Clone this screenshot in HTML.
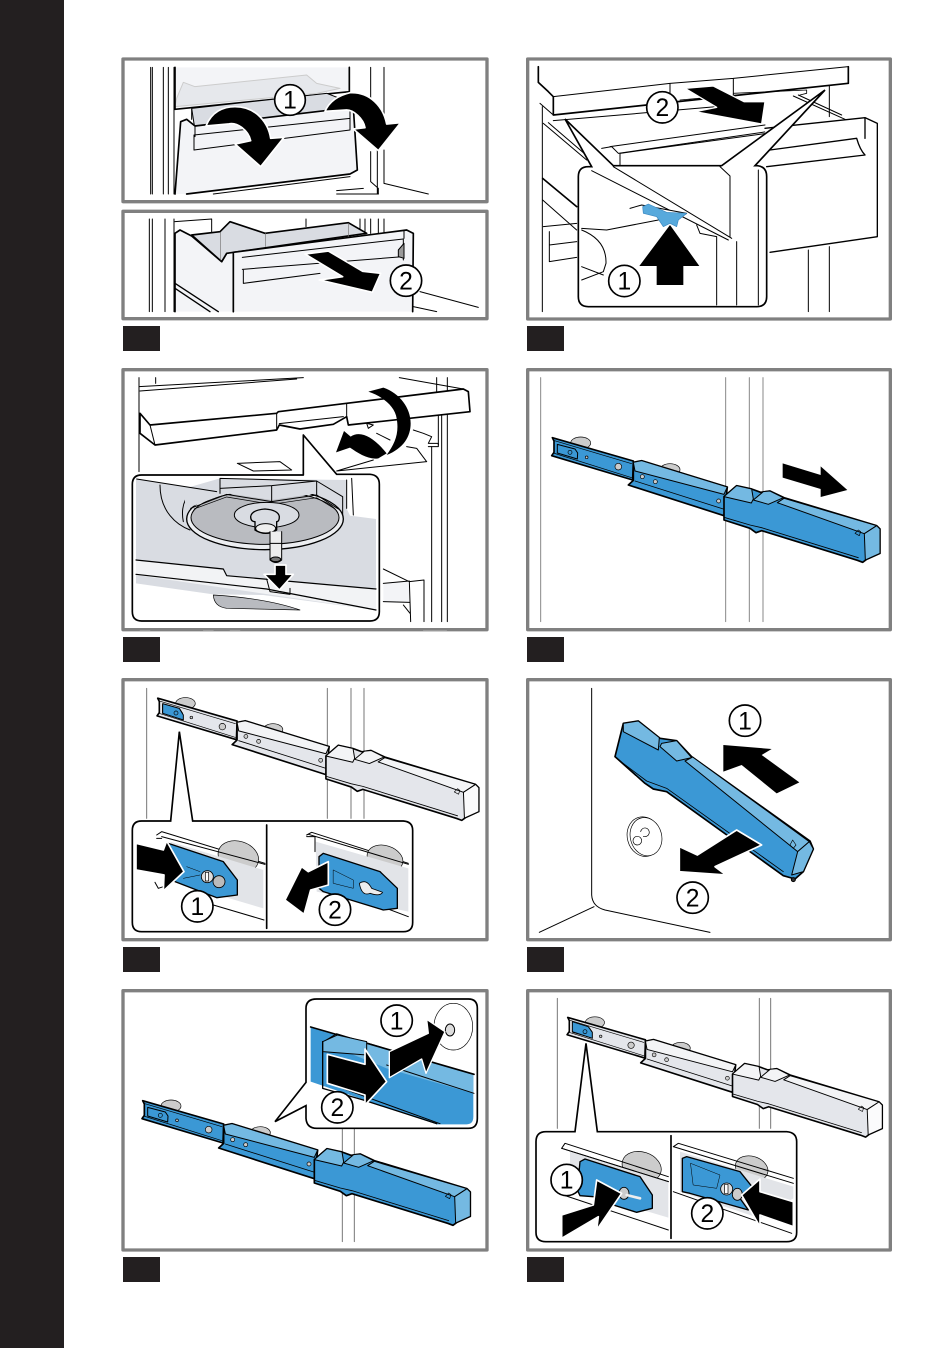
<!DOCTYPE html>
<html><head><meta charset="utf-8"><style>
html,body{margin:0;padding:0;background:#fff}
svg{display:block}
.f{fill:none;stroke:#808080;stroke-width:10}
.t{fill:#231f20}
g.p{fill:none;stroke:#000;stroke-width:3;stroke-linejoin:round;stroke-linecap:round}
.n text{font:74px "Liberation Sans",sans-serif;fill:#000;stroke:none;text-anchor:middle;transform:translateY(4px)}
.n circle{fill:#fff;stroke:#000;stroke-width:5}
.k{fill:#000;stroke:#fff;stroke-width:5}
.m{fill:var(--a);stroke:#000;stroke-width:5}
.l{fill:var(--b);stroke:#000;stroke-width:3}
.e{fill:var(--c);stroke:#000;stroke-width:3}
.h{fill:#ccc;stroke:#000;stroke-width:2}
.blue{--a:#3b98d5;--b:#74b9e2;--c:#74b9e2}
.grey{--a:#e4e6eb;--b:#f3f4f6;--c:#fbfbfc}
.d1{fill:#f3f4f7}.d2{fill:#d9dce2}.d3{fill:#b9bbc0}
</style></head><body>
<svg width="950" height="1348" viewBox="0 0 950 1348" xmlns="http://www.w3.org/2000/svg">
<defs>
<g id="rail">
<ellipse class="h" cx="182" cy="234" rx="30" ry="18"/>
<ellipse class="h" cx="450" cy="314" rx="30" ry="18"/>
<path class="m" d="M97,218L340,288L338,345L95,272L102,262L102,228Z"/>
<path d="M100,226L335,296M100,264L335,338" stroke="#000" stroke-width="2" fill="none"/>
<path d="M112,238L165,252L173,264L172,282L112,264Z" fill="#3b98d5" stroke="#000" stroke-width="3"/>
<circle cx="150" cy="262" r="6" fill="#3b98d5" stroke="#000" stroke-width="2"/>
<circle class="h" cx="200" cy="277" r="4"/>
<circle class="h" cx="295" cy="305" r="10"/>
<path class="m" d="M340,292L365,287L622,366L612,452L325,360L340,346Z"/>
<path class="l" d="M340,292L365,287L622,366L612,388L345,318Z"/>
<path d="M345,348L610,432" stroke="#000" stroke-width="2.5" fill="none"/>
<circle class="h" cx="367" cy="335" r="6"/><circle class="h" cx="406" cy="350" r="6"/><circle class="h" cx="596" cy="408" r="6"/>
<path class="m" d="M612,395L650,362L695,372L722,382L750,378L792,398L1070,482L1080,492L1080,565L1040,583L1028,592L1012,586L725,497L708,503L690,490L612,465Z"/>
<path class="l" d="M612,395L650,362L695,372L700,402L694,414Z"/>
<path class="l" d="M700,405L730,380L750,378L790,398L745,418Z"/>
<path class="l" d="M772,413L792,400L1070,482L1033,506Z"/>
<path class="e" d="M1033,506L1070,482L1080,492L1080,565L1036,585Z"/>
<path d="M612,457L690,480L725,488L1015,578" stroke="#000" stroke-width="2.5" fill="none"/>
<path d="M1005,505L1015,495L1022,500L1018,512Z" fill="none" stroke="#000" stroke-width="2"/>
</g>
</defs>
<rect x="0" y="0" width="950" height="1348" fill="#fff"/>
<rect x="0" y="0" width="64" height="1348" fill="#231f20"/>

<!-- Panel 1 -->
<g class="p" transform="translate(120,50) scale(.33333)">
<rect class="f" x="9" y="27" width="1092" height="428"/>
<path d="M92,52V432M97,52V432M130,52V432M145,52V432M162,52V432M752,52V200M772,300V432M792,52V200M792,300V400L925,432M752,305V395L775,415V432" stroke-width="3"/>
<path class="d1" stroke="none" d="M165,52H688L688,125L165,175Z"/>
<path fill="#e6e8ec" stroke="#ccc" d="M170,145L190,97L225,110L560,75L590,100L660,115L590,130L165,170Z"/>
<path d="M165,52V178L688,125V52" stroke-width="5"/>
<path class="d2" stroke="#000" d="M215,175L620,130L710,165L690,195L225,240Z"/>
<path class="d1" stroke="none" d="M165,432L182,215L200,208L225,228L700,172L712,360L690,372L200,432Z"/>
<path stroke-width="5" d="M165,432L182,215L200,208L225,228L700,172L712,360L690,372L200,432"/>
<path d="M222,255L690,205M222,300V255M222,300L690,240M225,228V260M215,178V208M690,172L690,240"/>
<path class="k" d="M258,228C275,185 310,170 345,170C410,170 445,220 452,265L492,262L422,350L345,282L392,272C385,240 350,215 325,222Z"/>
<path class="k" d="M615,184C630,150 660,135 690,128C750,125 790,170 800,222L842,218L775,302L700,237L735,233C730,205 700,180 680,180Z"/>
<path d="M280,432L690,380M650,422L730,415M650,432H775" stroke-width="3"/>
<g class="n"><circle cx="510" cy="150" r="46"/><text x="510" y="172">1</text></g>
</g>

<!-- Panel 1b -->
<g class="p" transform="translate(120,50) scale(.33333)">
<rect class="f" x="9" y="484" width="1092" height="322"/>
<path d="M88,507V785M97,507V785M135,507V785M162,507V785M720,507V550M735,507V550M752,507V550M775,507V550M792,507V550M558,507V530M165,515L275,507M275,507V545"/>
<path class="d1" stroke="none" d="M165,785V550L180,540L215,558L305,635L320,610L340,605V785Z"/>
<path stroke-width="5" d="M165,785V550L180,540L215,558L305,635L320,610L340,605V785"/>
<path class="d2" stroke="#000" stroke-width="5" d="M215,555L300,545L330,515L435,550L685,518L740,550L320,610L305,635Z"/>
<path d="M302,547V630M437,550V590M685,520V560" stroke-width="2" stroke="#777"/>
<path d="M165,700L295,785M165,715L270,785" stroke-width="4"/>
<path class="d1" stroke="none" d="M340,607L860,540L880,550L878,785H340Z"/>
<path stroke-width="5" d="M340,785V607L860,540L880,550L878,785"/>
<path d="M367,622L850,567M367,658L850,620M370,658V700L600,670M850,567V630M852,540V565"/>
<path d="M835,600L852,580V625L835,620Z" fill="#999"/>
<path d="M900,725L1075,772M880,770L950,785"/>
<path class="k" d="M555,612L625,603L728,664L782,670L757,727L598,690L668,680Z"/>
<g class="n"><circle cx="858" cy="692" r="47"/><text x="858" y="714">2</text></g>
</g>
<rect class="t" x="123" y="326" width="37" height="25"/>

<!-- Panel 2 -->
<g class="p" transform="translate(520,50) scale(.33333)">
<rect class="f" x="23" y="27" width="1088" height="780"/>
<path d="M67,170V785M865,600V785M928,590V785M928,105V200"/>
<path d="M100,212L590,170M70,220L200,330M85,218L210,325M300,310L740,250M820,138L975,208M835,135L965,195" />
<path fill="#fff" stroke="#000" stroke-width="5" d="M55,50V97L85,125L100,140V195L985,100V50"/>
<path d="M100,140L450,100M450,100V140M450,100L640,85V135M640,85L985,50M60,160L100,195" stroke-width="3"/>
<path d="M480,150L590,140M640,130L860,120V130L840,135" stroke-width="2.5"/>
<path d="M245,295L275,290L295,310L740,245M270,290L735,225" stroke-width="3"/>
<path d="M300,312V345"/>
<path fill="#fff" stroke="#000" stroke-width="4" d="M735,235L1035,203L1072,220V560L750,607"/>
<path stroke-width="4" d="M750,300L1010,265Q1020,300 1035,315L740,350M1035,205V265"/>
<path d="M68,385L170,470" stroke-width="5"/>
<path d="M68,450L170,540M70,530L170,520M88,545V635L170,622M88,585L170,575"/>
<path fill="#fff" stroke="#000" stroke-width="5" stroke-linejoin="miter" d="M205,350H215L135,207L280,347H605L915,120L705,347H712Q740,350 740,380V740Q740,770 710,770H205Q175,770 175,740V380Q175,350 205,350Z"/>
<path d="M215,362L625,570M280,350L635,565M600,350L630,378V560M590,560V765M650,575V765M715,360V765M185,535L260,540L415,510M185,540Q260,570 258,640L250,665L185,690M185,650L250,675M530,525L540,550L590,560"/>
<path fill="#fff" d="M330,475L365,465L500,490L470,510"/>
<path fill="#57a9dc" stroke="#3b88c0" stroke-width="2" d="M368,470L385,462L440,487L500,490L475,510L470,530L450,520L430,530L410,500L370,490Z"/>
<path class="k" style="stroke:none" d="M450,525L538,648H490V705H410V648H358Z"/>
<g class="n"><circle cx="313" cy="693" r="47"/><text x="313" y="715">1</text></g>
<path class="k" style="stroke-width:4" d="M495,115L580,108L672,155L735,155L725,222L525,185L590,172Z"/>
<g class="n"><circle cx="427" cy="172" r="47"/><text x="427" y="194">2</text></g>
</g>
<rect class="t" x="527" y="326" width="37" height="25"/>

<!-- Panel 3 -->
<g class="p" transform="translate(120,365) scale(.33333)">
<rect class="f" x="9" y="14" width="1092" height="780"/>
<path d="M57,38V320M107,38V55M950,38V80M982,38V770M935,245V770M965,150V770M955,150V240"/>
<path d="M57,65L550,38M60,78L530,42M838,38L1030,72"/>
<path fill="#fff" stroke-width="5" d="M60,145L90,180L470,145L475,140L680,115L1030,72L1045,80L1050,140L685,180L680,155L640,178L540,192L478,180L470,195L105,240L60,205Z"/>
<path d="M90,180L105,240M470,145V195M680,115V155M478,176L670,155"/>
<path d="M740,175L760,180L745,190ZM770,205L810,225M880,195L910,205L935,215L925,235H955V245H925M860,245L890,250L920,290L650,318L760,285"/>
<path d="M352,295L480,290L515,315L400,318Z" stroke-width="3"/>
<path class="k" style="stroke:none" d="M745,80L790,68C840,85 872,130 872,175C872,215 850,250 800,270C825,235 838,205 830,160C825,125 790,95 745,80Z"/>
<path class="k" style="stroke:none" d="M648,262L672,198L692,215C720,195 760,215 800,265L775,280C745,285 715,265 690,248Z"/>
<path fill="#fff" stroke="none" d="M65,330H550V210L650,328H750Q778,330 778,358V740Q778,768 750,768H65Q37,768 37,740V358Q37,330 65,330Z"/>
<path class="d2" stroke="none" d="M48,342L290,380L300,340L590,348L670,410L690,452L768,462V735L430,690L280,688L48,655Z"/>
<path d="M120,360C120,440 170,480 210,495M190,470C180,420 200,380 240,365" stroke-width="3"/>
<ellipse cx="435" cy="462" rx="235" ry="92" fill="#eceef1" stroke="#000" stroke-width="4"/>
<ellipse cx="435" cy="458" rx="222" ry="80" class="d3" stroke="#000" stroke-width="3"/>
<path class="d2" stroke="none" d="M195,432L320,385L455,405L590,385L680,432L680,345L300,340L195,370Z"/>
<path d="M212,430L320,388L455,410L590,390L655,432" stroke-width="3"/>
<path d="M222,432L320,396L455,418L590,398L645,432" stroke-width="2"/>
<path d="M300,340V385M455,362V408M590,348V390M300,340L590,348L668,395V450M50,342L290,380M695,340L700,450M680,345V430M300,370L455,362L590,348" stroke-width="3"/>
<ellipse cx="440" cy="450" rx="97" ry="38" fill="#d9dce2" stroke="#000" stroke-width="3"/>
<path d="M392,455Q395,435 435,432Q475,435 478,455Q478,470 470,470V495Q437,515 405,495V470Q392,470 392,455Z" fill="#d9dce2" stroke="#000" stroke-width="4"/>
<ellipse cx="437" cy="490" rx="30" ry="14" fill="#eee" stroke="#000" stroke-width="3"/>
<path d="M450,500V535H485V500M450,535V585Q468,600 485,585V535" fill="#eee" stroke="#000" stroke-width="3"/>
<ellipse cx="467" cy="583" rx="15" ry="7" fill="#777"/>
<path fill="#f2f3f5" stroke="none" d="M48,585L310,615L320,632L768,670V735L48,630Z"/>
<path d="M48,585L310,612L320,632L768,672M48,628L440,672L768,735" stroke-width="3.5"/>
<path d="M440,642L450,680L510,688V670" />
<path d="M280,690Q282,725 320,730L540,735Q440,700 280,690Z" fill="#b9bbc0" stroke="#000" stroke-width="2"/>
<path class="k" d="M465,600H498V628H520L478,675L432,628H465Z"/>
<path fill="none" stroke="#000" stroke-width="5" d="M65,330H550V210L650,328H750Q778,330 778,358V740Q778,768 750,768H65Q37,768 37,740V358Q37,330 65,330Z"/>
<path class="d1" stroke="none" d="M790,655L868,648V710H790Z"/>
<path stroke-width="3" d="M790,612L868,650L912,645V770M790,655L868,648L872,770M790,710L870,712M850,720L870,745"/>
<path d="M60,797H90M250,797H280M330,797H360M910,797H980" stroke-width="2" stroke="#aaa"/>
</g>
<rect class="t" x="123" y="637" width="37" height="25"/>

<!-- Panel 4 -->
<g class="p blue" transform="translate(520,365) scale(.33333)">
<rect class="f" x="23" y="14" width="1088" height="780"/>
<path stroke-width="3" style="stroke:#888" d="M62,38V770M617,38V770M729,38V770M688,38V770"/>
<use href="#rail"/>
<path class="k" style="stroke:none" d="M788,295L902,330V304L982,375L902,396V372L788,338Z"/>
</g>
<rect class="t" x="527" y="637" width="37" height="25"/>

<!-- Panel 5 -->
<g class="p grey" transform="translate(120,675) scale(.33333)">
<rect class="f" x="9" y="14" width="1092" height="780"/>
<path d="M80,40V430M622,40V430M693,40V430M732,40V430" style="stroke:#777" stroke-width="3"/>
<use href="#rail" transform="translate(18,-144) scale(.98)"/>
<path fill="#3b98d5" stroke="#000" stroke-width="3" d="M128,86L178,100L190,120L190,135L128,115Z"/>
<circle cx="168" cy="114" r="6" fill="#3b98d5" stroke="#000" stroke-width="2"/>
<path fill="#fff" stroke="#000" stroke-width="5" stroke-linejoin="miter" d="M65,438H152L178,170L218,438H850Q878,440 878,466V742Q878,770 850,770H65Q37,770 37,742V466Q37,438 65,438Z"/>
<path d="M440,450V760" stroke-width="5"/>
<path d="M110,480L125,470L435,565M110,490L125,490M105,622L115,640L130,635M280,690L432,735"/>
<ellipse cx="355" cy="545" rx="62" ry="46" class="h" transform="rotate(18 355 545)"/>
<path fill="#e2e4e8" stroke="none" d="M150,500L430,585V700L260,650Z"/>
<path d="M125,485L435,568"/>
<path fill="#3b98d5" stroke="#000" stroke-width="4" d="M145,505L310,560L352,615V660L290,668L165,620Z"/>
<path d="M190,610L240,600M200,575L240,590" stroke="#000" stroke-width="1.5"/>
<circle cx="262" cy="605" r="18" fill="#ddd" stroke="#000" stroke-width="2.5"/><rect x="256" y="592" width="10" height="26" fill="#fff" stroke="#000" stroke-width="2"/>
<circle cx="297" cy="620" r="18" fill="#bbb" stroke="#000" stroke-width="2.5"/>
<path class="k" d="M48,505L130,525L140,498L192,590L130,648L132,600L48,585Z"/>
<g class="n"><circle cx="232" cy="694" r="47"/><text x="232" y="716">1</text></g>
<path d="M560,480L575,472L865,565M560,485H585V530"/>
<ellipse cx="795" cy="550" rx="55" ry="38" class="h" transform="rotate(18 795 550)"/>
<path fill="#e2e4e8" stroke="none" d="M587,500L865,580V710L590,650Z"/>
<path d="M565,478L865,568M640,640L865,725"/>
<path fill="#3b98d5" stroke="#000" stroke-width="4" d="M597,545L610,535L780,590L832,640V700L790,705L610,650L597,640Z"/>
<path d="M640,585L700,615V640L640,625Z" stroke="#000" stroke-width="1.5"/>
<path d="M718,625Q740,610 755,640L788,652Q780,665 750,655Q725,665 718,625Z" fill="#eee" stroke="#000" stroke-width="2.5"/>
<path class="k" d="M625,560V630L572,645L552,718L495,675L545,575L565,590Z"/>
<g class="n"><circle cx="645" cy="704" r="47"/><text x="645" y="726">2</text></g>
</g>
<rect class="t" x="123" y="947" width="37" height="25"/>

<!-- Panel 6 -->
<g class="p blue" transform="translate(520,675) scale(.33333)">
<rect class="f" x="23" y="14" width="1088" height="780"/>
<path d="M215,40V660Q217,695 255,705L570,772M222,695L58,772" stroke-width="3"/>
<ellipse cx="372" cy="485" rx="50" ry="60" fill="#fff" stroke="#000" stroke-width="2" transform="rotate(-15 372 485)"/>
<ellipse cx="378" cy="485" rx="47" ry="58" fill="#fff" stroke="#000" stroke-width="2" transform="rotate(-15 378 485)"/>
<circle cx="352" cy="497" r="13" fill="#fff" stroke="#000" stroke-width="2"/>
<path d="M362,470a13,13 0 1 1 8,14" stroke-width="2"/>
<path class="m" d="M310,145L355,138L420,190L470,197L515,245L870,498L880,522L850,590L825,612L790,602L440,350L400,342L375,325L285,245Z"/>
<path class="l" d="M310,145L355,138L418,188L415,225L310,170Z"/>
<path class="l" d="M420,215L425,205L470,197L515,248L470,258Z"/>
<path class="l" d="M495,258L518,246L868,500L833,530Z"/>
<path class="l" d="M833,530L868,500L880,522L850,590L815,600Z"/>
<path d="M300,258L380,318L440,340L790,590" stroke-width="2.5"/>
<path d="M810,510L818,495L828,510L820,520Z" stroke-width="2"/>
<circle cx="820" cy="614" r="6" fill="#333"/>
<path class="k" style="stroke:none" d="M610,210L755,222L725,240L838,322L770,355L665,270L610,290Z"/>
<path class="k" d="M478,515L532,540L650,465L725,510L585,575L618,600L478,590Z"/>
<g class="n"><circle cx="675" cy="137" r="47"/><text x="675" y="159">1</text></g>
<g class="n"><circle cx="518" cy="668" r="47"/><text x="518" y="690">2</text></g>
</g>
<rect class="t" x="527" y="947" width="37" height="25"/>

<!-- Panel 7 -->
<g class="p blue" transform="translate(120,985) scale(.33333)">
<rect class="f" x="9" y="17" width="1092" height="778"/>
<path d="M667,430V770M703,430V770" stroke-width="3" style="stroke:#777"/>
<use href="#rail" transform="translate(-29,129)"/>
<path fill="#fff" stroke="#000" stroke-width="5" stroke-linejoin="miter" d="M590,42H1045Q1072,42 1072,70V400Q1072,430 1045,430H590Q560,430 558,400V362L465,410L558,292V70Q558,42 590,42Z"/>
<ellipse cx="1000" cy="125" rx="58" ry="70" fill="#fff" stroke="#000" stroke-width="2"/>
<ellipse cx="990" cy="135" rx="14" ry="18" fill="#ddd" stroke="#000" stroke-width="3"/>
<path fill="#3b98d5" stroke="none" d="M572,128L1060,270V395Q1060,418 1040,418H950L572,290Z"/>
<path fill="#74b9e2" stroke="none" d="M640,148L1060,268V325L800,250L690,205Z"/>
<path d="M572,126L1062,268" stroke-width="5"/>
<path d="M800,240L1062,325" stroke-width="3"/>
<path d="M608,172L650,146L800,192" stroke-width="3"/>
<path fill="#74b9e2" stroke="#000" stroke-width="3" d="M608,170L652,150L740,170L740,210L608,200Z"/>
<path d="M608,170V310L730,345L950,416" stroke-width="4"/>
<path d="M625,295L750,340L960,416" stroke-width="3"/>
<path class="k" d="M622,208L735,238V192L800,290L735,360V330L622,295Z"/>
<path class="k" style="stroke-width:4" d="M808,200L925,145L920,103L975,140L918,265L905,222L808,278Z"/>
<g class="n"><circle cx="830" cy="107" r="47"/><text x="830" y="129">1</text></g>
<g class="n"><circle cx="652" cy="367" r="47"/><text x="652" y="389">2</text></g>
</g>
<rect class="t" x="123" y="1257" width="37" height="25"/>

<!-- Panel 8 -->
<g class="p grey" transform="translate(520,985) scale(.33333)">
<rect class="f" x="23" y="17" width="1088" height="778"/>
<path d="M112,40V430M718,40V430M752,40V430" stroke-width="3" style="stroke:#777"/>
<use href="#rail" transform="translate(50,-112) scale(.96)"/>
<path fill="#3b98d5" stroke="#000" stroke-width="3" d="M157,110L205,125L217,142L217,160L157,140Z"/>
<circle cx="195" cy="140" r="6" fill="#3b98d5" stroke="#000" stroke-width="2"/>
<path fill="#fff" stroke="#000" stroke-width="5" stroke-linejoin="miter" d="M78,440H165L198,175L232,440H800Q830,442 830,470V742Q830,770 800,770H78Q48,770 48,742V470Q48,440 78,440Z"/>
<path d="M453,452V760" stroke-width="5"/>
<ellipse cx="365" cy="545" rx="60" ry="44" class="h" transform="rotate(18 365 545)"/>
<path d="M125,490L135,475L445,575M125,490L445,590M130,630L445,735" />
<path fill="#e2e4e8" stroke="none" d="M150,500L445,590V698L150,610Z"/>
<path d="M125,490L445,590" stroke-width="3"/>
<path fill="#3b98d5" stroke="#000" stroke-width="4" d="M180,530L195,522L360,575L397,630V670L350,682L280,660L220,635L180,632L172,615Z"/>
<ellipse cx="312" cy="625" rx="15" ry="18" fill="#ccc" stroke="#000" stroke-width="2.5"/>
<path d="M320,630L360,640" stroke="#eee" stroke-width="8"/>
<path class="k" d="M125,690L220,660L230,585L305,625L230,735L235,695L125,760Z"/>
<g class="n"><circle cx="140" cy="585" r="47"/><text x="140" y="607">1</text></g>
<ellipse cx="695" cy="550" rx="50" ry="36" class="h" transform="rotate(18 695 550)"/>
<path d="M460,485L475,475L820,580M460,485L820,595M460,620L815,745"/>
<path fill="#e2e4e8" stroke="none" d="M480,500L820,605V640L720,700L480,620Z"/>
<path fill="#3b98d5" stroke="#000" stroke-width="4" d="M487,520L500,515L660,560L700,610L660,640L685,675L510,625L487,620Z"/>
<path d="M512,535L600,570L590,610L520,600Z" stroke="#000" stroke-width="1.5"/>
<circle cx="620" cy="612" r="18" fill="#ddd" stroke="#000" stroke-width="2.5"/><rect x="614" y="598" width="10" height="28" fill="#fff" stroke="#000" stroke-width="2"/>
<ellipse cx="652" cy="628" rx="15" ry="18" fill="#ccc" stroke="#000" stroke-width="2.5"/>
<path class="k" d="M820,725L720,690V725L665,630L720,582L720,620L820,650Z"/>
<g class="n"><circle cx="562" cy="685" r="47"/><text x="562" y="707">2</text></g>
</g>
<rect class="t" x="527" y="1257" width="37" height="25"/>
</svg>
</body></html>
